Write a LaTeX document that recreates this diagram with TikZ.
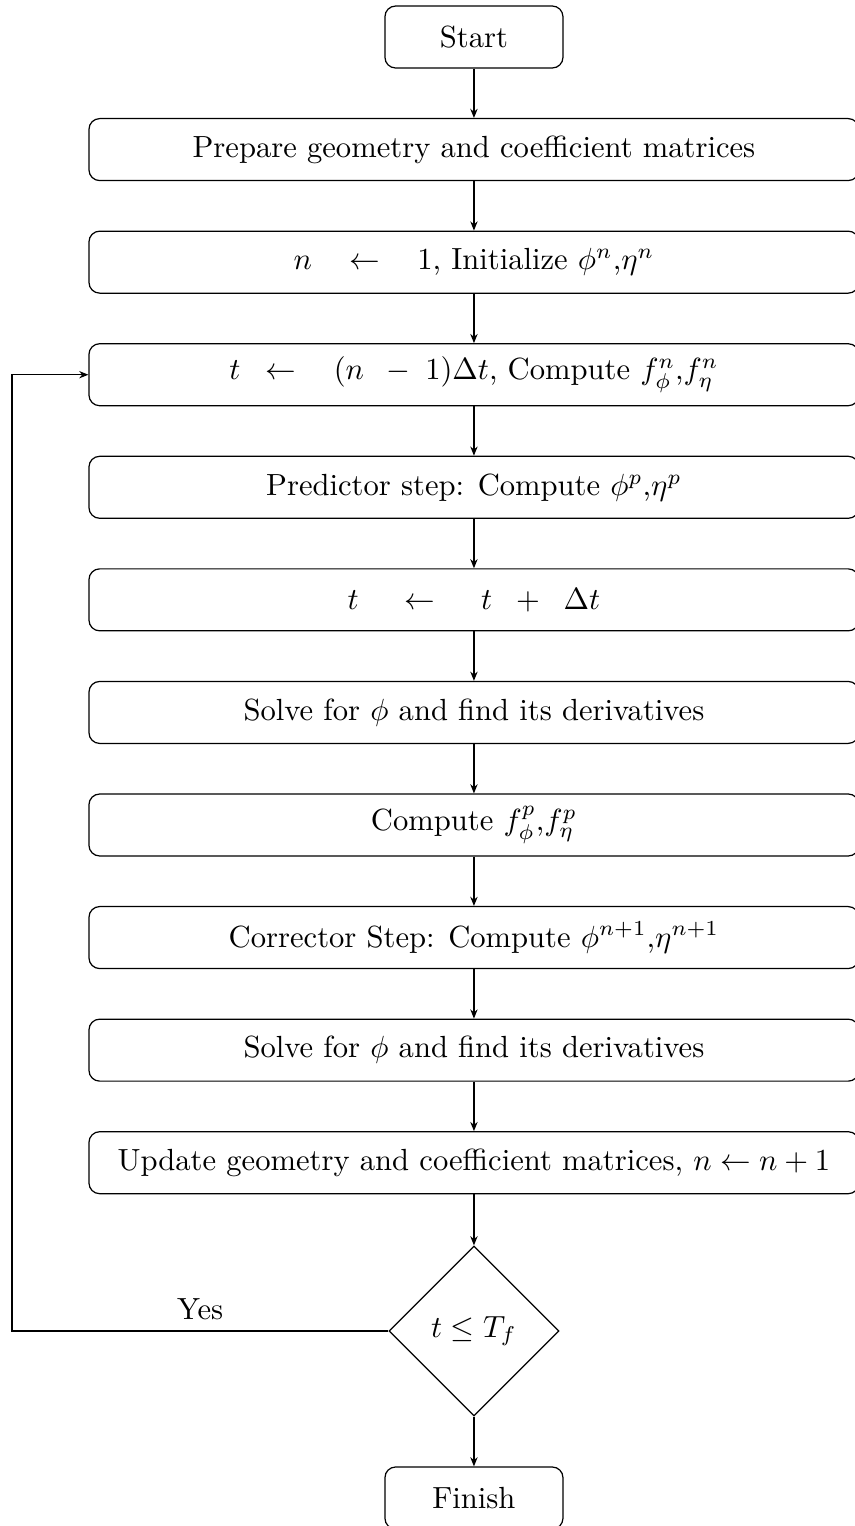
\documentclass[tikz,border=0pt]{standalone}
\usepackage{amsmath}
\usepackage{amssymb}
\usepackage{tikz}
\usetikzlibrary{
  shapes.geometric,
  arrows.meta,
  calc
}
\definecolor{linecolor}{RGB}{0, 0, 0}
\definecolor{textcolor}{RGB}{0, 0, 0}

\begin{document}
\begin{tikzpicture}[
    % Estilos dos blocos
    block/.style={
        rectangle,
        rounded corners=3.5pt,
        draw=linecolor,
        line width=0.4pt,
        minimum height=0.712cm,
        text centered,
        text=textcolor,
        inner sep=2pt,
    },
    startblock/.style={block, minimum width=2.045cm},
    processblock/.style={block, minimum width=8.844cm},
    decisionblock/.style={diamond, draw=linecolor, line width=0.4pt,
        minimum width=1.953cm, minimum height=1.953cm, inner sep=0pt},
    % Estilos das setas
    arrow/.style={-{Stealth[length=3pt, width=2.4pt]}, line width=0.4pt, linecolor},
    line/.style={line width=0.4pt, linecolor},
    answerlabel/.style={text=textcolor},
]
\useasboundingbox (-5.444, 0.425) rectangle (4.376, -17.103);

% ============================================================================
% INICIO
% ============================================================================
\node[startblock] (start) at (0, 0) {Start};
\node[processblock] (prepare) at (0, -1.293) {Prepare geometry and coefficient matrices};
\node[processblock] (init) at (0, -2.586)
    {$n \mkern17mu\leftarrow\mkern17mu 1$, Initialize $\phi^n$,$\eta^n$};

% ============================================================================
% LACO NO TEMPO
% ============================================================================
\node[processblock] (settime) at (0, -3.879)
    {$t \mkern10mu\leftarrow\mkern17mu (n \mkern9mu-\mkern5mu 1)\Delta t$, Compute $f^n_\phi$,$f^n_\eta$};
\node[processblock] (predictor) at (0, -5.172) {Predictor step: Compute $\phi^p$,$\eta^p$};
\node[processblock] (advance) at (0, -6.465)
    {$t \mkern22mu\leftarrow\mkern22mu t \mkern10mu+\mkern10mu \Delta t$};
\node[processblock] (solveone) at (0, -7.758) {Solve for $\phi$ and find its derivatives};
\node[processblock] (forcing) at (0, -9.051) {Compute $f^p_\phi$,$f^p_\eta$};
\node[processblock] (corrector) at (0, -10.344) {Corrector Step: Compute $\phi^{n+1}$,$\eta^{n+1}$};
\node[processblock] (solvetwo) at (0, -11.637) {Solve for $\phi$ and find its derivatives};
\node[processblock] (update) at (0, -12.930)
    {Update geometry and coefficient matrices, $n \leftarrow n+1$};

% ============================================================================
% DECISAO E FIM
% ============================================================================
\node[decisionblock] (check) at (0, -14.863) {$t \le T_f$};
\node[startblock] (finish) at (0, -16.781) {Finish};

\coordinate (loopcorner) at (-5.306, -14.863);

\draw[arrow] (start) -- (prepare);
\draw[arrow] (prepare) -- (init);
\draw[arrow] (init) -- (settime);
\draw[arrow] (settime) -- (predictor);
\draw[arrow] (predictor) -- (advance);
\draw[arrow] (advance) -- (solveone);
\draw[arrow] (solveone) -- (forcing);
\draw[arrow] (forcing) -- (corrector);
\draw[arrow] (corrector) -- (solvetwo);
\draw[arrow] (solvetwo) -- (update);
\draw[arrow] (update) -- (check);
\draw[arrow] (check) -- (finish);
\draw[arrow] (check.west) -- node[answerlabel, above] {Yes} (loopcorner) |- (settime.west);

\end{tikzpicture}
\end{document}
